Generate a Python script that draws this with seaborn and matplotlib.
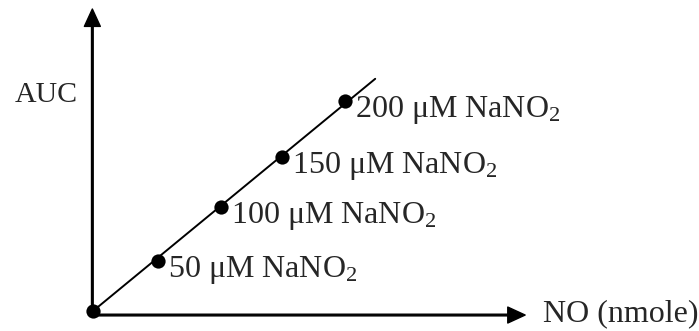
import matplotlib
matplotlib.use("Agg")
import matplotlib.pyplot as plt
import seaborn as sns
import numpy as np
import pandas as pd

# Data (schematic calibration: NO amount vs AUC)
nitrite_conc = [0, 50, 100, 150, 200]          # µM NaNO2
no_nmole = [0, 52, 102, 150, 200]              # x position (arbitrary units)
auc = [0, 48, 99, 147, 200]                    # y position (arbitrary units)
point_labels = ["", "50 μM NaNO$_2$", "100 μM NaNO$_2$",
                "150 μM NaNO$_2$", "200 μM NaNO$_2$"]
x_label = "NO (nmole)"
y_label = "AUC"

sns.set_theme(style="white")
plt.rcParams["font.family"] = ["Liberation Serif", "DejaVu Serif"]
plt.rcParams["mathtext.fontset"] = "custom"
plt.rcParams["mathtext.rm"] = "Liberation Serif"
plt.rcParams["mathtext.it"] = "Liberation Serif:italic"

fig = plt.figure(figsize=(6.99, 3.31), dpi=100)
ax = fig.add_axes([0, 0, 1, 1])
ax.set_axis_off()

# pixel-to-data scaling: x 63 px per 50 units, y 52.5 px per 50 units
ax.set_xlim(-73.8, 481)
ax.set_ylim(-19.0, 296.2)

df = pd.DataFrame({"NO": no_nmole, "AUC": auc})

# fitted line through origin, extended a bit past the last point
slope = np.sum(np.array(no_nmole) * np.array(auc)) / np.sum(np.array(no_nmole) ** 2)
xfit = np.array([0, 224])
sns.lineplot(x=xfit, y=slope * xfit, ax=ax, color="black", lw=1.4)

sns.scatterplot(data=df, x="NO", y="AUC", ax=ax, color="black", s=105,
                edgecolor="black", linewidth=0, zorder=5)

# axes arrows
arrow_kw = dict(facecolor="black", edgecolor="black", width=1.2,
                headwidth=11.5, headlength=12.5, shrink=0)
ax.annotate("", xy=(343, -3.8), xytext=(-0.5, -3.8), arrowprops=arrow_kw)
ax.annotate("", xy=(-0.5, 287.6), xytext=(-0.5, -3.8), arrowprops=arrow_kw)

ax.text(-62, 205.6, y_label, fontsize=21.5, ha="left", va="center")
ax.text(357, -3.0, x_label, fontsize=23, ha="left", va="center")

for x, y, lab in zip(no_nmole, auc, point_labels):
    if lab:
        ax.annotate(lab, xy=(x, y), xytext=(7, -11.5), textcoords="offset points",
                    fontsize=23, ha="left", va="baseline")

fig.savefig("out.png", dpi=100)
